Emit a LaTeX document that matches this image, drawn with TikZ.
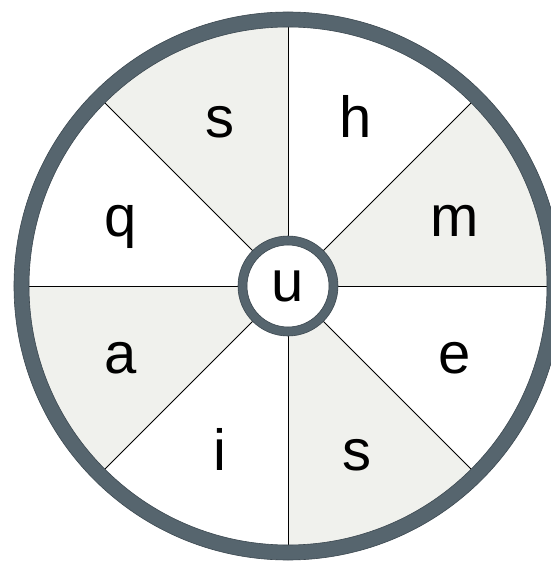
\documentclass[tikz,border=0pt]{standalone}
\usepackage{fontspec}
\setmainfont{Liberation Sans}
\usepackage{tikz}
\usepackage{xcolor}
\definecolor{ringgray}{RGB}{86,101,110}
\definecolor{ringedge}{RGB}{60,72,80}
\definecolor{sectorgray}{RGB}{240,241,237}

\begin{document}
\begin{tikzpicture}[x=1pt,y=1pt,every node/.style={font=\fontsize{58}{60}\selectfont}]
\useasboundingbox (-288,-276) rectangle (263,286);
\clip (-288,-276) rectangle (263,286);
\fill[white] (-288,-276) rectangle (263,286);
\foreach \a in {0,90,180,270}
  \fill[sectorgray] (0,0) -- (\a:262) arc[start angle=\a, end angle=\a+45, radius=262] -- cycle;
\foreach \a in {0,45,...,315}
  \draw[line width=1] (\a:48) -- (\a:262);
\filldraw[ringgray, draw=ringedge, line width=0.6, even odd rule] (0,0) circle[radius=274] (0,0) circle[radius=259];
\fill[white] (0,0) circle[radius=42];
\filldraw[ringgray, draw=ringedge, line width=0.6, even odd rule] (0,0) circle[radius=50] (0,0) circle[radius=41];
\node (hub) at (0,0) {u};
\node[anchor=base] (s1) at (-68,148) {s};
\node[anchor=base] (h) at (68,148) {h};
\node[anchor=base] (m) at (167,49) {m};
\node[anchor=base] (q) at (-167,49) {q};
\node[anchor=base] (a) at (-167,-87) {a};
\node[anchor=base] (e) at (167,-87) {e};
\node[anchor=base] (i) at (-68,-184) {i};
\node[anchor=base] (s2) at (69,-184) {s};
\end{tikzpicture}
\end{document}
